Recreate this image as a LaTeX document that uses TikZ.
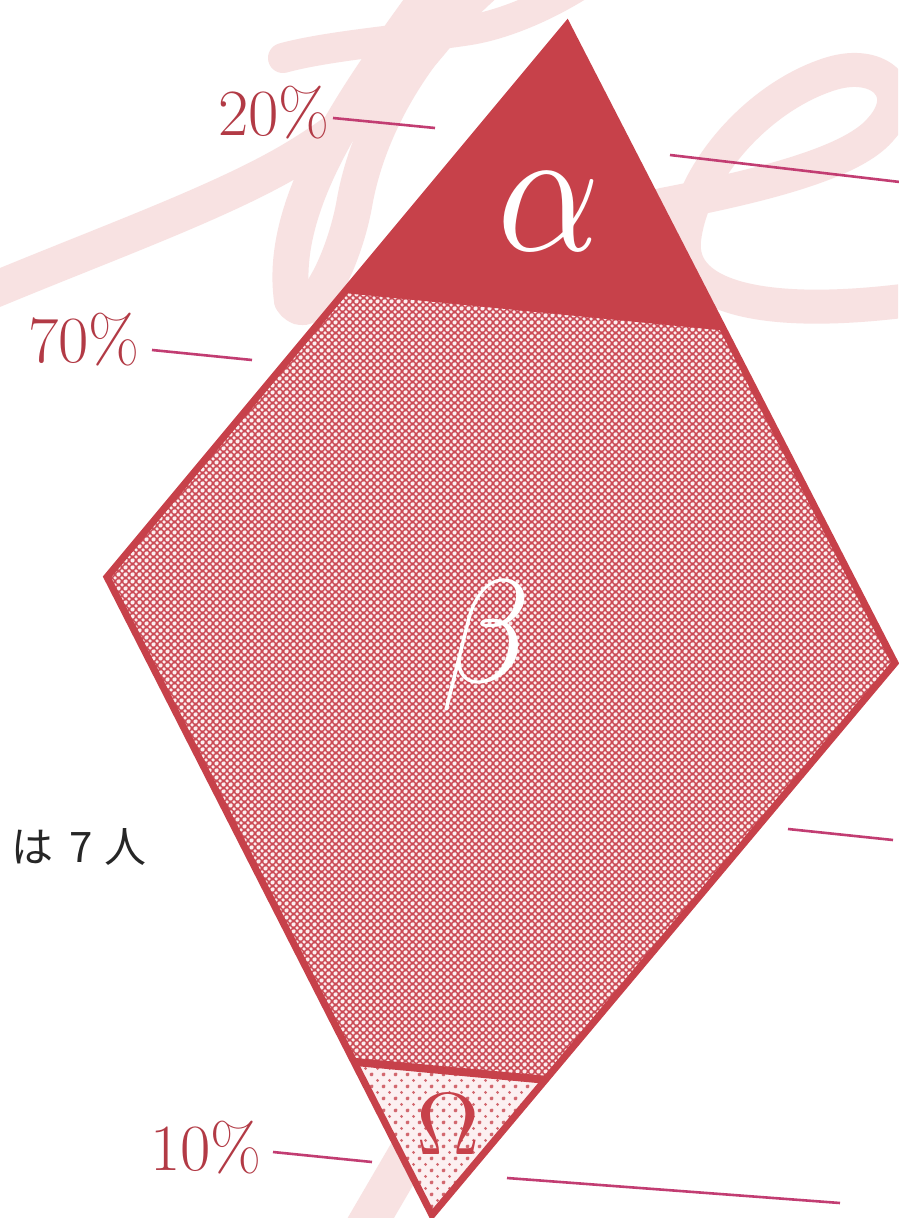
\documentclass[tikz,border=0pt]{standalone}
\usepackage{fontspec}
\usepackage{unicode-math}
\newfontfamily\jpfont{Noto Sans CJK JP}
\usetikzlibrary{patterns.meta,calc}
\definecolor{dred}{HTML}{C7414A}
\definecolor{lblred}{HTML}{B23A45}
\definecolor{leadc}{HTML}{C23D72}
\definecolor{pale}{HTML}{F8E2E2}
\definecolor{betabase}{HTML}{CB4B56}
\definecolor{betadot}{HTML}{FCEDEE}
\definecolor{omegabase}{HTML}{FCF0F1}
\tikzdeclarepattern{name=halftone, type=colored,
  bounding box={(0pt,0pt) and (7pt,7pt)}, tile size={(7pt,7pt)},
  code={\fill[betabase] (-1pt,-1pt) rectangle (8pt,8pt);
        \fill[betadot] (0pt,0pt) circle (2.05pt); \fill[betadot] (7pt,0pt) circle (2.05pt);
        \fill[betadot] (0pt,7pt) circle (2.05pt); \fill[betadot] (7pt,7pt) circle (2.05pt);
        \fill[betadot] (3.5pt,3.5pt) circle (2.05pt);}}
\tikzdeclarepattern{name=sparsedots, type=colored,
  bounding box={(0pt,0pt) and (12pt,12pt)}, tile size={(12pt,12pt)},
  code={\fill[omegabase] (-1pt,-1pt) rectangle (13pt,13pt);
        \fill[dred!80] (0pt,0pt) circle (1.7pt); \fill[dred!80] (12pt,0pt) circle (1.7pt);
        \fill[dred!80] (0pt,12pt) circle (1.7pt); \fill[dred!80] (12pt,12pt) circle (1.7pt);
        \fill[dred!80] (6pt,6pt) circle (1.7pt);}}
\begin{document}
\begin{tikzpicture}[x=1pt,y=-1pt,
  script/.style={draw=pale,line width=36pt,line cap=round,line join=round},
  lbl/.style={text=lblred,inner sep=0pt,font=\fontsize{66}{70}\selectfont},
  lead/.style={draw=leadc,line width=2.6pt},
  edge/.style={draw=dred,line width=7pt,line join=miter}]
\useasboundingbox (0,0) rectangle (898,1218);
\fill[white] (0,0) rectangle (898,1218);
\begin{scope}
\clip (0,0) rectangle (898,1218);
% pale script letters in the background
\draw[script] (-30,300) .. controls (100,245) and (230,200) .. (305,152) .. controls (380,105) and (430,50) .. (470,-10);
\draw[script] (440,-20) .. controls (360,90) and (278,200) .. (292,300);
\draw[script] (292,300) .. controls (310,330) and (345,260) .. (355,200) .. controls (370,120) and (420,40) .. (490,-20);
\draw[script,line width=30pt] (283,58) .. controls (330,45) and (420,38) .. (470,30) .. controls (500,25) and (540,10) .. (580,-15);
\draw[script,line width=34pt] (662,205) .. controls (750,188) and (850,165) .. (880,130) .. controls (915,92) and (880,58) .. (830,74) .. controls (760,96) and (692,170) .. (684,240) .. controls (678,300) and (770,318) .. (910,300);
\draw[script,line width=40pt] (355,1245) -- (425,1125);
\end{scope}
% diamond corners
\coordinate (A) at (567,25);
\coordinate (L) at (107,577);
\coordinate (R) at (895,663);
\coordinate (B) at (432,1215);
\coordinate (P1) at ($(A)!0.483!(L)$);
\coordinate (P2) at ($(A)!0.4765!(R)$);
\coordinate (P3) at ($(L)!0.760!(B)$);
\coordinate (P4) at ($(R)!0.755!(B)$);
% regions
\fill[dred] (A) -- (P1) -- (P2) -- cycle;
\fill[pattern=halftone] (P1) -- (L) -- (P3) -- (P4) -- (R) -- (P2) -- cycle;
\fill[pattern=sparsedots] (P3) -- (B) -- (P4) -- cycle;
\draw[edge] (A) -- (R) -- (B) -- (L) -- cycle;
\draw[dred,line width=3pt] (P1) -- (P2);
\draw[dred,line width=8pt] (P3) -- (P4);
% region letters
\node[text=white,inner sep=0pt] (alpha) at (549,212) {\fontsize{160}{165}\selectfont\scalebox{1}[1.13]{$\alpha$}};
\node[text=white,inner sep=0pt] (beta) at (485,645) {\fontsize{147}{150}\selectfont$\beta$};
\node[text=dred,inner sep=0pt] (omega) at (448,1123) {\fontsize{88}{90}\selectfont$\Omega$};
% percentage labels with leader lines
\node[lbl,anchor=base east] (l20) at (330,135) {20\%};
\node[lbl,anchor=base east] (l70) at (140,362) {70\%};
\node[lbl,anchor=base east] (l10) at (262,1170) {10\%};
\coordinate (s20) at (333,118); \coordinate (e20) at (435,128);
\coordinate (s70) at (152,350); \coordinate (e70) at (252,360);
\coordinate (s10) at (273,1152); \coordinate (e10) at (372,1162);
\draw[lead] (s20) -- (e20);
\draw[lead] (s70) -- (e70);
\draw[lead] (s10) -- (e10);
% right-hand leader lines
\coordinate (r1s) at (670,155); \coordinate (r1e) at (900,182);
\coordinate (r2s) at (788,829); \coordinate (r2e) at (893,840);
\coordinate (r3s) at (507,1178); \coordinate (r3e) at (840,1203);
\draw[lead] (r1s) -- (r1e);
\draw[lead] (r2s) -- (r2e);
\draw[lead] (r3s) -- (r3e);
% Japanese text
\node[anchor=west,inner sep=0pt,text=black!85] (jp) at (11,847) {\jpfont\fontsize{42}{46}\selectfont は\hspace{16pt}7\hspace{12pt}人};
\end{tikzpicture}
\end{document}
